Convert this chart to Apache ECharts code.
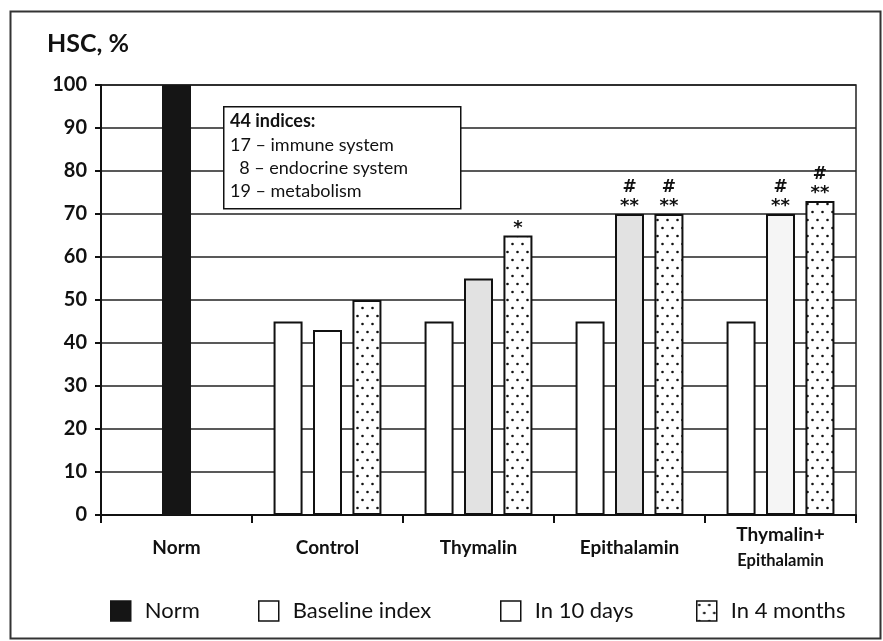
<!DOCTYPE html>
<html>
<head>
<meta charset="utf-8">
<script src="https://cdn.jsdelivr.net/npm/echarts@6/dist/echarts.min.js"></script>
<style>
  html, body { margin: 0; background: #fff; }
  #chart { width: 883px; height: 641px; }
</style>
</head>
<body>
<div id="chart"></div>
<script>
// values (HSC, % of norm)
const categories = ['Norm', 'Control', 'Thymalin', 'Epithalamin', 'Thymalin+\nEpithalamin'];
const normValues = [100, null, null, null, null];
const baselineValues = [null, 45, 45, 45, 45];
const tenDayValues = [null, 43, 55, 70, 70];
const fourMonthValues = [null, 50, 65, 70, 73];
const tenDayMarks = ['', '', '', '#\n**', '#\n**'];
const fourMonthMarks = ['', '', '*', '#\n**', '#\n**'];
const yTicks = [0, 100, 10];
const legendNames = ['Norm', 'Baseline index', 'In 10 days', 'In 4 months'];
const noteLines = ['44 indices:', '17 – immune system', '  8 – endocrine system', '19 – metabolism'];

// scanned gray tint of the 10-day bars
const tenDayFills = ['#ffffff', '#ffffff', '#e2e2e2', '#e2e2e2', '#f5f5f5'];
const legendLeft = [105, 253, 495, 691];

const FONT = 'Lato';

function dotPattern() {
  const c = document.createElement('canvas');
  c.width = 10;
  c.height = 16;
  const ctx = c.getContext('2d');
  ctx.fillStyle = '#fff';
  ctx.fillRect(0, 0, 10, 16);
  ctx.fillStyle = '#111';
  [[2.5, 4], [7.5, 12]].forEach(([x, y]) => {
    ctx.beginPath();
    ctx.arc(x, y, 1.3, 0, Math.PI * 2);
    ctx.fill();
  });
  return c;
}

function markText(m) {
  return m.split('\n').map(l => l.indexOf('#') >= 0 ? '{h|' + l + '}' : '{s|' + l + '}').join('\n');
}

const markLabel = {
  position: 'top',
  distance: -2,
  color: '#111',
  rich: {
    h: { fontFamily: 'DejaVu Sans', fontWeight: 'bold', fontSize: 17, lineHeight: 19, color: '#111' },
    s: { fontFamily: 'DejaVu Sans', fontWeight: 'bold', fontSize: 18, lineHeight: 19, color: '#111' }
  }
};

const barBase = { type: 'bar', barWidth: 29, barGap: '36%' };
const outline = { borderColor: '#111', borderWidth: 2 };

const chart = echarts.init(document.getElementById('chart'));
chart.setOption({
  backgroundColor: '#fff',
  animation: false,
  textStyle: { fontFamily: FONT },
  grid: { left: 101, right: 27, top: 85, bottom: 126, show: true, borderColor: '#222', borderWidth: 1.5 },
  legend: legendNames.map((n, i) => ({
    data: [n],
    left: legendLeft[i],
    top: 595,
    itemWidth: 20,
    itemHeight: 20,
    itemGap: 0,
    icon: 'rect',
    itemStyle: { borderWidth: 1.5 },
    textStyle: { fontFamily: FONT, fontSize: 22, color: '#111', padding: [0, 0, 0, 9] }
  })),
  xAxis: {
    type: 'category',
    data: categories,
    axisLine: { lineStyle: { color: '#111', width: 2 } },
    axisTick: { show: true, length: 8, lineStyle: { color: '#111', width: 2 } },
    axisLabel: {
      interval: 0,
      margin: 33,
      verticalAlign: 'middle',
      fontFamily: FONT,
      fontWeight: 'bold',
      fontSize: 19,
      color: '#111',
      lineHeight: 26,
      formatter: v => {
        const parts = v.split('\n');
        return parts.length > 1 ? parts[0] + '\n{small|' + parts[1] + '}' : v;
      },
      rich: { small: { fontFamily: FONT, fontWeight: 'bold', fontSize: 16.5, color: '#111', lineHeight: 26 } }
    }
  },
  yAxis: {
    type: 'value',
    min: yTicks[0],
    max: yTicks[1],
    interval: yTicks[2],
    axisLine: { show: true, lineStyle: { color: '#111', width: 2 } },
    axisTick: { show: true, length: 6, lineStyle: { color: '#111', width: 2 } },
    axisLabel: { margin: 14, fontFamily: FONT, fontWeight: 'bold', fontSize: 20, color: '#111' },
    splitLine: { lineStyle: { color: '#222', width: 1.6 } }
  },
  series: [
    Object.assign({}, barBase, {
      name: 'Baseline index',
      data: baselineValues,
      itemStyle: Object.assign({ color: '#fff' }, outline)
    }),
    Object.assign({}, barBase, {
      name: 'Norm',
      stack: 'mid',
      data: normValues,
      itemStyle: { color: '#151515', borderColor: '#151515', borderWidth: 1 }
    }),
    Object.assign({}, barBase, {
      name: 'In 10 days',
      stack: 'mid',
      itemStyle: Object.assign({ color: '#fff' }, outline),
      label: markLabel,
      data: tenDayValues.map((v, i) => ({
        value: v,
        itemStyle: { color: tenDayFills[i] },
        label: { show: !!tenDayMarks[i], formatter: markText(tenDayMarks[i]) }
      }))
    }),
    Object.assign({}, barBase, {
      name: 'In 4 months',
      itemStyle: Object.assign({ color: { image: dotPattern(), repeat: 'repeat' } }, outline),
      label: markLabel,
      data: fourMonthValues.map((v, i) => ({
        value: v,
        label: { show: !!fourMonthMarks[i], formatter: markText(fourMonthMarks[i]) }
      }))
    })
  ],
  graphic: [
    {
      type: 'rect',
      left: 8, top: 9,
      shape: { width: 870, height: 627 },
      style: { fill: 'none', stroke: '#333', lineWidth: 2 },
      z: 0, silent: true
    },
    {
      type: 'text',
      left: 47, top: 31,
      style: { text: 'HSC, %', fontFamily: FONT, fontWeight: 'bold', fontSize: 25, fill: '#111' },
      z: 100
    },
    {
      type: 'rect',
      left: 223, top: 106,
      shape: { width: 237, height: 102 },
      style: { fill: '#fff', stroke: '#111', lineWidth: 1.5 },
      z: 100
    },
    {
      type: 'text',
      left: 230, top: 110,
      style: {
        text: '{b|' + noteLines[0] + '}\n' + noteLines.slice(1).join('\n'),
        fontFamily: FONT, fontSize: 18, lineHeight: 23.3, fill: '#111',
        rich: { b: { fontFamily: FONT, fontWeight: 'bold', fontSize: 18, lineHeight: 23.3, fill: '#111' } }
      },
      z: 101
    }
  ]
});
</script>
</body>
</html>
